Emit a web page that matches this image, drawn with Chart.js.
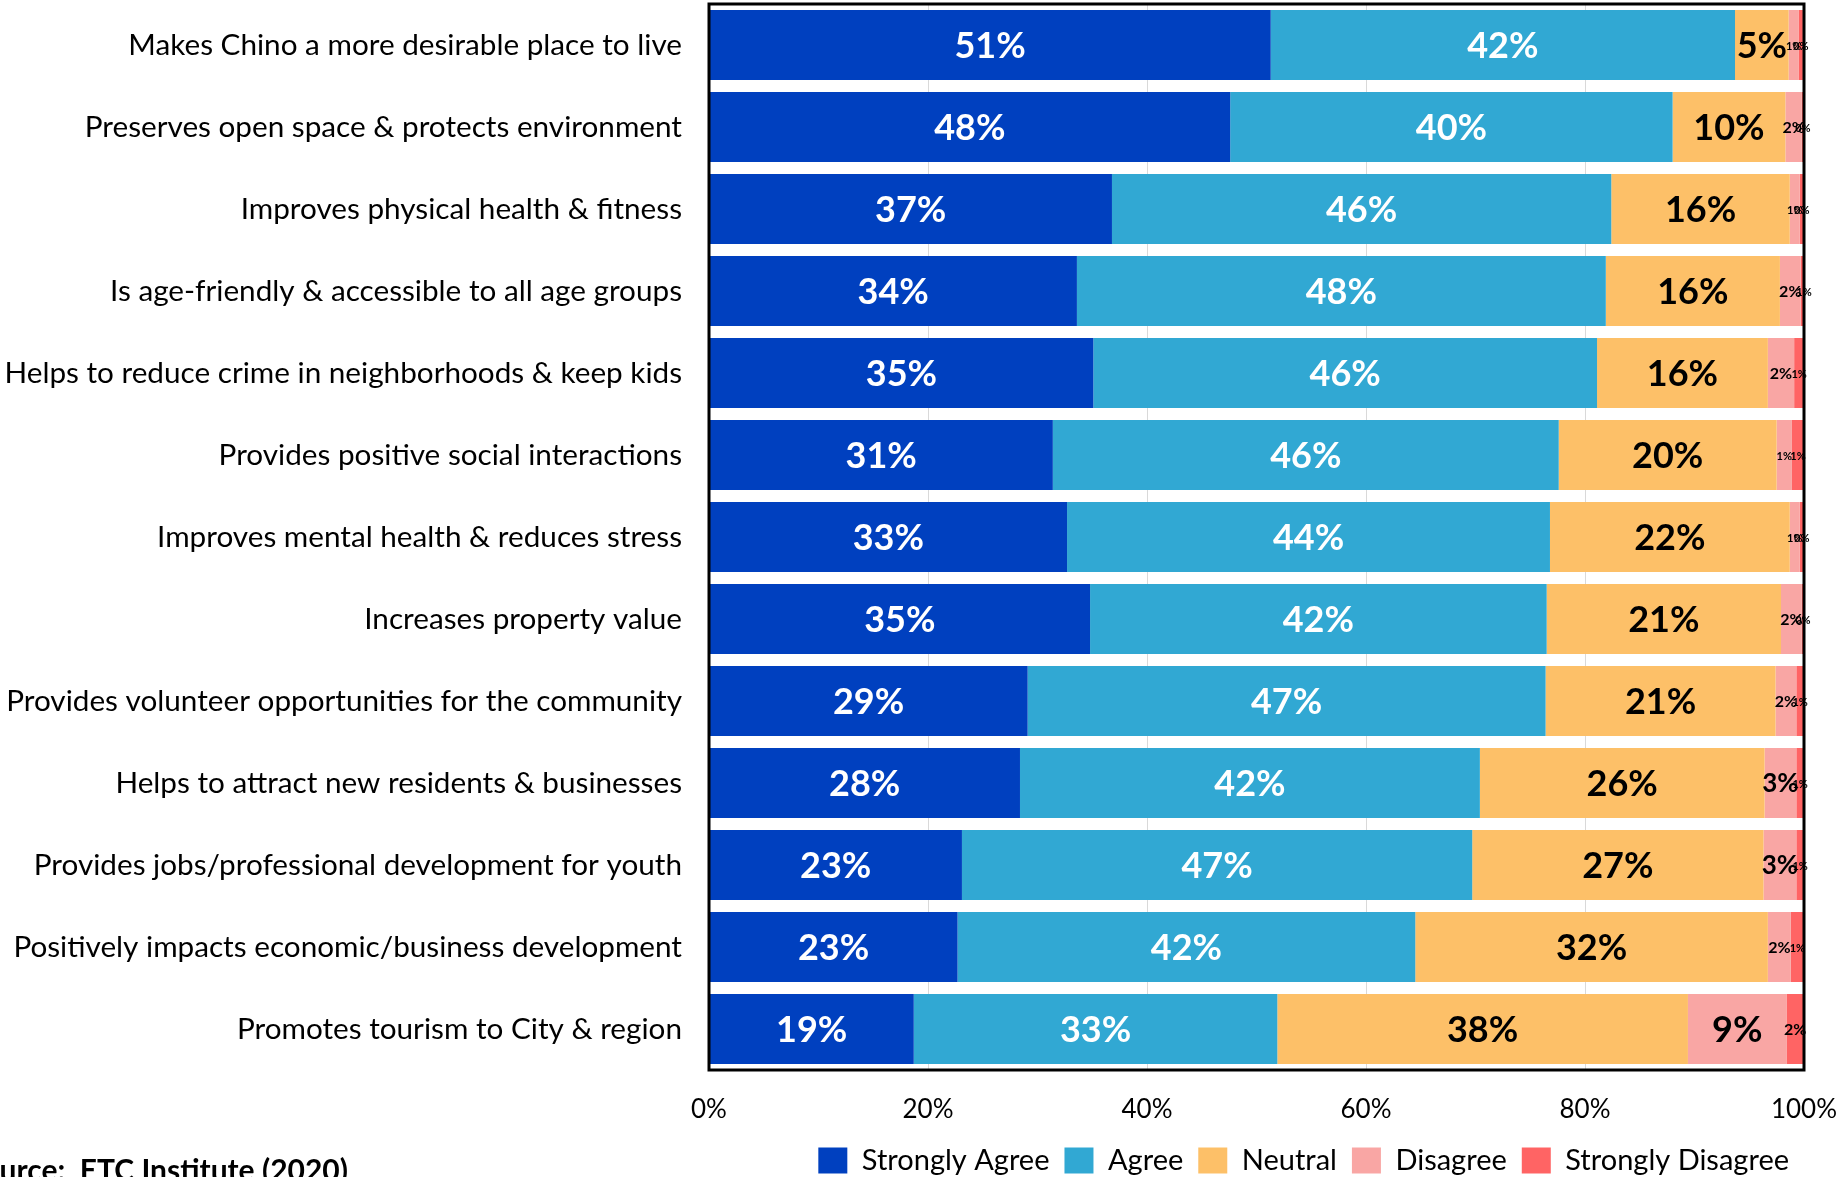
<!DOCTYPE html>
<html>
<head>
<meta charset="utf-8">
<script src="https://cdn.jsdelivr.net/npm/chart.js@4.4.1/dist/chart.umd.min.js"></script>
<style>
  html, body { margin: 0; padding: 0; background: #fff; }
  #wrap { width: 1843px; height: 1177px; overflow: hidden; }
</style>
</head>
<body>
<div id="wrap"><canvas id="myChart" width="1843" height="1177"></canvas></div>
<script>
// categories, top to bottom
const categories = [
  "Makes Chino a more desirable place to live",
  "Preserves open space & protects environment",
  "Improves physical health & fitness",
  "Is age-friendly & accessible to all age groups",
  "Helps to reduce crime in neighborhoods & keep kids",
  "Provides positive social interactions",
  "Improves mental health & reduces stress",
  "Increases property value",
  "Provides volunteer opportunities for the community",
  "Helps to attract new residents & businesses",
  "Provides jobs/professional development for youth",
  "Positively impacts economic/business development",
  "Promotes tourism to City & region"
];

const seriesNames = ["Strongly Agree", "Agree", "Neutral", "Disagree", "Strongly Disagree"];

// percent of respondents
const stronglyAgree = [51.3, 47.6, 36.8, 33.6, 35.1, 31.4, 32.7, 34.8, 29.1, 28.4, 23.1, 22.7, 18.7];
const agree = [42.4, 40.4, 45.6, 48.3, 46.0, 46.2, 44.1, 41.7, 47.3, 42.0, 46.6, 41.8, 33.2];
const neutral = [4.9, 10.3, 16.3, 15.9, 15.6, 19.9, 21.9, 21.4, 21.0, 26.0, 26.6, 32.2, 37.5];
const disagree = [0.9, 1.5, 0.9, 1.9, 2.4, 1.4, 0.9, 1.9, 1.9, 2.9, 3.0, 2.1, 9.0];
const stronglyDisagree = [0.4, 0.2, 0.4, 0.6, 0.9, 1.1, 0.4, 0.2, 0.7, 0.7, 0.7, 1.2, 1.6];

const xTicks = [0, 20, 40, 60, 80, 100];
const sourceNote = "Source:  ETC Institute (2020)";

const colors = ["#0040BF", "#31A8D3", "#FDC068", "#F9A6A4", "#FF6464"];
const seriesValues = [stronglyAgree, agree, neutral, disagree, stronglyDisagree];

Chart.defaults.font.family = "Lato, 'Open Sans', sans-serif";
Chart.defaults.color = "#000";

const PLOT_BOTTOM = 1070;
const PAD_BOTTOM = -8;

// black box round the plot area
const plotFrame = {
  id: "plotFrame",
  afterDatasetsDraw(chart) {
    const { ctx, chartArea: a } = chart;
    ctx.save();
    ctx.strokeStyle = "#000";
    ctx.lineWidth = 3;
    ctx.strokeRect(a.left, a.top, a.right - a.left, a.bottom - a.top);
    ctx.restore();
  }
};

// value labels centred in each segment
const barLabels = {
  id: "barLabels",
  afterDatasetsDraw(chart) {
    const ctx = chart.ctx;
    ctx.save();
    ctx.textAlign = "center";
    ctx.textBaseline = "middle";
    chart.data.datasets.forEach((ds, i) => {
      const meta = chart.getDatasetMeta(i);
      meta.data.forEach((bar, j) => {
        const v = ds.data[j];
        let size = 36;
        if (v < 1.5) size = 11;
        else if (v < 2.5) size = 16;
        else if (v < 4.5) size = 26;
        ctx.font = "bold " + size + "px Lato";
        ctx.fillStyle = i < 2 ? "#fff" : "#000";
        const p = bar.getProps(["x", "y", "base"], true);
        ctx.fillText(Math.round(v) + "%", (p.x + p.base) / 2, p.y + 1);
      });
    });
    ctx.restore();
  }
};

// source note, bottom left (partly off the canvas like the original)
const sourceText = {
  id: "sourceText",
  afterDraw(chart) {
    const ctx = chart.ctx;
    ctx.save();
    ctx.font = "bold 30px Lato";
    ctx.fillStyle = "#000";
    ctx.textAlign = "right";
    ctx.textBaseline = "alphabetic";
    ctx.fillText(sourceNote, 348, 1181);
    ctx.restore();
  }
};

const ctx = document.getElementById("myChart");

new Chart(ctx, {
  type: "bar",
  data: {
    labels: categories,
    datasets: seriesNames.map((name, i) => ({
      label: name,
      data: seriesValues[i],
      backgroundColor: colors[i],
      borderWidth: 0,
      categoryPercentage: 0.854,
      barPercentage: 1
    }))
  },
  options: {
    indexAxis: "y",
    responsive: false,
    animation: false,
    devicePixelRatio: 1,
    layout: { padding: { top: 4, right: 39, bottom: PAD_BOTTOM, left: 0 } },
    scales: {
      x: {
        stacked: true,
        min: 0,
        max: 100,
        afterBuildTicks(scale) {
          scale.ticks = xTicks.map(v => ({ value: v }));
        },
        ticks: {
          callback: v => v + "%",
          color: "#000",
          font: { size: 26 },
          padding: 24,
          maxRotation: 0
        },
        grid: { color: "#d9d9d9", lineWidth: 1, drawTicks: false },
        border: { display: false },
        afterFit(scale) {
          const chart = scale.chart;
          scale.height = chart.height - PLOT_BOTTOM - chart.legend.height - PAD_BOTTOM;
          scale.paddingLeft = 0;
          scale.paddingRight = 0;
        }
      },
      y: {
        stacked: true,
        ticks: { color: "#000", font: { size: 29.7 }, padding: 27 },
        grid: { display: false, drawTicks: false },
        border: { display: false },
        afterFit(scale) {
          scale.width = 709;
          scale.paddingTop = 0;
          scale.paddingBottom = 0;
        }
      }
    },
    plugins: {
      legend: {
        position: "bottom",
        align: "end",
        labels: {
          boxWidth: 29,
          boxHeight: 26,
          color: "#000",
          font: { size: 29 },
          padding: 15
        }
      },
      tooltip: { enabled: false }
    }
  },
  plugins: [plotFrame, barLabels, sourceText]
});
</script>
</body>
</html>
